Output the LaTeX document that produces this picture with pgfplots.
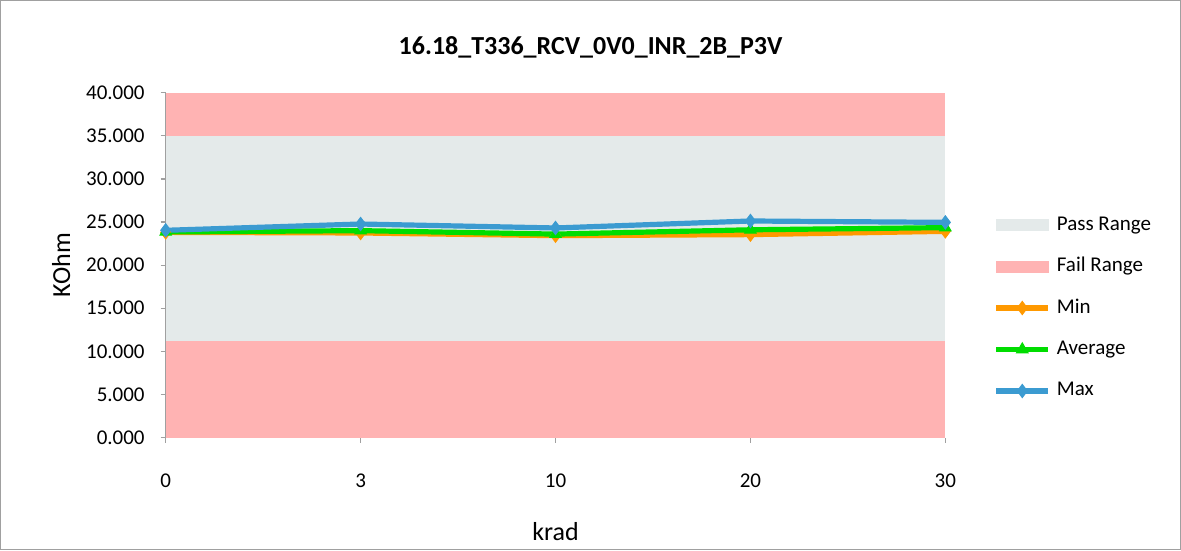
\documentclass[border=0pt]{standalone}
\usepackage{pgfplots}
\pgfplotsset{compat=1.18}
\usepackage{fontspec}
\setmainfont{Carlito}
\definecolor{passc}{RGB}{228,234,234}
\definecolor{failc}{RGB}{255,179,179}
\definecolor{minc}{RGB}{255,153,0}
\definecolor{avgc}{RGB}{0,221,0}
\definecolor{maxc}{RGB}{59,155,209}
\definecolor{axc}{RGB}{160,160,160}
\begin{document}
\begin{tikzpicture}
\draw[draw=axc, line width=0.75pt] (-82.5pt,-56pt) rectangle (507.5pt,218.5pt);
\begin{axis}[
  at={(0,0)}, anchor=south west,
  scale only axis, width=390pt, height=172.5pt,
  xmin=0, xmax=4, ymin=0, ymax=40,
  axis x line*=bottom, axis y line*=left,
  axis line style={draw=axc, line width=0.6pt, -},
  tick style={draw=axc, line width=0.6pt},
  tick align=outside, major tick length=2.5pt,
  xtick={0,1,2,3,4}, xticklabels={0,3,10,20,30},
  ytick={0,5,...,40},
  yticklabel style={xshift=-4.5pt, /pgf/number format/.cd, fixed, fixed zerofill, precision=3, assume math mode=true},
  ticklabel style={font=\fontsize{10.5}{12}\selectfont},
  xticklabel style={yshift=-12pt},
  xlabel={krad}, ylabel={KOhm},
  label style={font=\fontsize{13}{15}\selectfont},
  xlabel style={yshift=-10.5pt},
  ylabel style={yshift=1pt},
  clip=false,
  legend cell align=left,
  legend style={draw=none, fill=none, inner sep=0pt, at={(1.0615,0.6435)}, anchor=north west,
    font=\fontsize{10.5}{12}\selectfont, row sep=11.75pt, column sep=3pt,
    nodes={inner sep=0pt, text height=7pt, text depth=2pt}},
  legend image code/.code={\draw[mark repeat=2, mark phase=2] plot coordinates {(0pt,0pt)(13pt,0pt)(26pt,0pt)};},
]
\addplot[fill=failc, draw=none, forget plot] coordinates {(0,0)(4,0)(4,40)(0,40)} --cycle;
\addplot[fill=passc, draw=none, forget plot] coordinates {(0,11.25)(4,11.25)(4,35)(0,35)} --cycle;
\addlegendimage{legend image code/.code={\fill[passc] (0pt,-2.75pt) rectangle (26pt,2.75pt);}}
\addlegendentry{Pass Range}
\addlegendimage{legend image code/.code={\fill[failc] (0pt,-2.75pt) rectangle (26pt,2.75pt);}}
\addlegendentry{Fail Range}
\addplot[color=minc, line width=2.6pt, mark=diamond*, mark size=3.3pt, mark options={line width=0.5pt}] coordinates {(0,23.80)(1,23.73)(2,23.42)(3,23.54)(4,23.92)};
\addlegendentry{Min}
\addplot[color=avgc, line width=2.6pt, mark=triangle*, mark size=3.3pt, mark options={line width=0.5pt}] coordinates {(0,23.85)(1,24.00)(2,23.60)(3,24.10)(4,24.35)};
\addlegendentry{Average}
\addplot[color=maxc, line width=2.6pt, mark=diamond*, mark size=3.3pt, mark options={line width=0.5pt}] coordinates {(0,24.04)(1,24.77)(2,24.31)(3,25.12)(4,24.96)};
\addlegendentry{Max}
\node[font=\bfseries\fontsize{13}{15}\selectfont] at (rel axis cs:0.545,1) [yshift=22.5pt] {16.18\_T336\_RCV\_0V0\_INR\_2B\_P3V};
\end{axis}
\end{tikzpicture}
\end{document}
